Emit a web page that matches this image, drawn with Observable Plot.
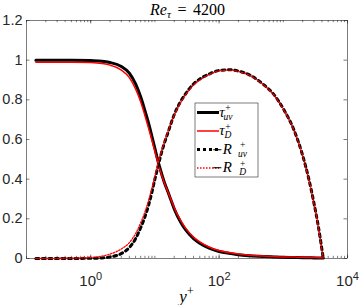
<!DOCTYPE html>
<html><head><meta charset="utf-8">
<script src="https://cdn.jsdelivr.net/npm/d3@7"></script>
<script src="https://cdn.jsdelivr.net/npm/@observablehq/plot@0.6"></script>
<style>body{margin:0;background:#fff}</style>
</head><body><div id="chart"></div>
<script>
const yPlus = [0.14,0.3,0.5,1,1.5,2,3,4,5,6,7,8,9,10,11,12,14,16,18,20,25,30,40,50,70,100,150,200,300,500,700,1000,1500,2000,2500,3000,3500,4000,4200];
const tauUV = [1.0,1.0,1.0,0.998,0.995,0.988,0.968,0.935,0.88,0.815,0.745,0.68,0.615,0.555,0.50,0.455,0.385,0.335,0.29,0.25,0.185,0.145,0.10,0.077,0.052,0.035,0.025,0.019,0.014,0.010,0.008,0.006,0.005,0.004,0.004,0.003,0.003,0.002,0.002];
const tauD = [0.99,0.99,0.99,0.988,0.983,0.975,0.95,0.912,0.855,0.79,0.72,0.655,0.595,0.54,0.49,0.447,0.382,0.335,0.293,0.256,0.193,0.153,0.108,0.084,0.058,0.04,0.029,0.023,0.017,0.012,0.010,0.008,0.007,0.006,0.005,0.005,0.004,0.004,0.004];
const Ruv = [0,0,0.0003,0.001,0.003,0.008,0.025,0.055,0.10,0.155,0.21,0.27,0.335,0.40,0.455,0.505,0.58,0.635,0.685,0.725,0.79,0.83,0.88,0.905,0.93,0.948,0.952,0.945,0.925,0.875,0.83,0.755,0.64,0.52,0.40,0.28,0.165,0.045,0];
const RD = [0.0003,0.001,0.002,0.005,0.012,0.022,0.048,0.08,0.125,0.18,0.235,0.295,0.355,0.415,0.47,0.515,0.585,0.64,0.685,0.722,0.785,0.825,0.875,0.9,0.927,0.946,0.95,0.943,0.923,0.873,0.828,0.753,0.638,0.518,0.398,0.278,0.163,0.043,0];
const yTicks = [0,0.2,0.4,0.6,0.8,1,1.2];
const xTicks = [1,100,10000];
const xMinor = [];
for (let e = -1; e <= 3; e++) for (let m = 1; m <= 9; m++) xMinor.push(m * 10 ** e);
xMinor.push(10000);

const W = 359, H = 305, mL = 26, mR = 12, mT = 20, mB = 47;
const pW = W - mL - mR, pH = H - mT - mB;
const mk = arr => yPlus.map((y, i) => ({y, v: arr[i]}));
const axisCol = "#262626";

const svg = Plot.plot({
  width: W, height: H,
  marginLeft: mL, marginRight: mR, marginTop: mT, marginBottom: mB,
  x: {type: "log", domain: [0.1, 10000]},
  y: {domain: [0, 1.2]},
  style: {fontFamily: "'Liberation Sans', Arial, sans-serif", fontSize: "14px", color: axisCol, background: "#fff", overflow: "visible"},
  marks: [
    Plot.frame({stroke: axisCol, strokeWidth: 0.6}),
    Plot.tickY(yTicks, {y: d => d, insetRight: pW - 3.5, stroke: axisCol, strokeWidth: 0.6}),
    Plot.tickY(yTicks, {y: d => d, insetLeft: pW - 3.5, stroke: axisCol, strokeWidth: 0.6}),
    Plot.tickX(xMinor, {x: d => d, insetTop: pH - 2.2, stroke: axisCol, strokeWidth: 0.6}),
    Plot.tickX(xMinor, {x: d => d, insetBottom: pH - 2.2, stroke: axisCol, strokeWidth: 0.6}),
    Plot.tickX(xTicks, {x: d => d, insetTop: pH - 3.5, stroke: axisCol, strokeWidth: 0.6}),
    Plot.tickX(xTicks, {x: d => d, insetBottom: pH - 3.5, stroke: axisCol, strokeWidth: 0.6}),
    Plot.axisY({ticks: yTicks, tickSize: 0, tickPadding: 4, tickFormat: d => String(+d.toFixed(1)), fontSize: 14.5, label: null}),
    Plot.axisX({ticks: xTicks, tickSize: 0, tickPadding: 17, tickFormat: d => String(Math.round(Math.log10(d))), fontSize: 15, label: null}),
    Plot.line(mk(tauUV), {x: "y", y: "v", stroke: "#000", strokeWidth: 3, curve: "monotone-x"}),
    Plot.line(mk(tauD), {x: "y", y: "v", stroke: "#ff0000", strokeWidth: 1.5, curve: "monotone-x"}),
    Plot.line(mk(Ruv), {x: "y", y: "v", stroke: "#000", strokeWidth: 3, strokeDasharray: "3,3.5", curve: "monotone-x"}),
    Plot.line(mk(RD), {x: "y", y: "v", stroke: "#ff0000", strokeWidth: 1.3, strokeDasharray: "1.5,1.5", curve: "monotone-x"})
  ]
});

const s = d3.select(svg);
s.selectAll('g[aria-label="x-axis tick label"] text').each(function() {
  const t = d3.select(this);
  const e = t.text();
  t.text(null);
  t.append("tspan").text("10");
  t.append("tspan").attr("dy", "-0.55em").attr("font-size", 11).text(e);
});

const serif = "'Liberation Serif', 'DejaVu Serif', serif";
const title = s.append("text").attr("x", mL + pW / 2 + 1).attr("y", 15).attr("text-anchor", "middle")
  .attr("font-family", serif).attr("font-size", 16).attr("font-weight", "normal").attr("fill", "#000").attr("word-spacing", 2.5);
title.append("tspan").attr("font-style", "italic").text("Re");
title.append("tspan").attr("font-style", "italic").attr("font-size", 11).attr("dy", 3).text("τ");
title.append("tspan").attr("dy", -3).text(" = 4200");
const xl = s.append("text").attr("x", mL + pW / 2).attr("y", 302).attr("text-anchor", "middle")
  .attr("font-family", serif).attr("font-size", 17).attr("fill", "#000");
xl.append("tspan").attr("font-style", "italic").text("y");
xl.append("tspan").attr("font-size", 12).attr("dy", -7).text("+");

document.getElementById("chart").appendChild(svg);

const lg = s.append("g");
const bx = 195, by = 103, bw = 63, bh = 74;
lg.append("rect").attr("x", bx).attr("y", by).attr("width", bw).attr("height", bh)
  .attr("fill", "#fff").attr("stroke", axisCol).attr("stroke-width", 0.6);
const entries = [
  {main: "τ", sub: "uv", stroke: "#000", w: 3, dash: null},
  {main: "τ", sub: "D", stroke: "#ff0000", w: 1.5, dash: null},
  {main: "−R", sub: "uv", stroke: "#000", w: 3, dash: "3,3"},
  {main: "−R", sub: "D", stroke: "#ff0000", w: 1.3, dash: "1.5,1.5"}
];
entries.forEach((e, i) => {
  const cy = 112.5 + i * 18.5;
  lg.append("line").attr("x1", 197).attr("x2", 219).attr("y1", cy).attr("y2", cy)
    .attr("stroke", e.stroke).attr("stroke-width", e.w).attr("stroke-dasharray", e.dash);
  const tx = 222;
  const t = lg.append("text").attr("x", tx).attr("y", cy + 4).attr("font-family", serif)
    .attr("font-size", 15).attr("fill", "#000");
  if (e.main === "τ") {
    t.append("tspan").attr("font-style", "italic").text("τ");
  } else {
    t.append("tspan").attr("font-family", "'DejaVu Sans', sans-serif").attr("font-size", 13).text("−");
    t.append("tspan").attr("font-style", "italic").text("R");
  }
  const mw = t.node().getComputedTextLength();
  t.append("tspan").attr("x", tx + mw + 0.5).attr("dy", -5.5).attr("font-size", 9.5).text("+");
  t.append("tspan").attr("x", tx + mw + 0.5).attr("dy", 8.5).attr("font-size", 9.5).attr("font-style", "italic").text(e.sub);
});
</script></body></html>
